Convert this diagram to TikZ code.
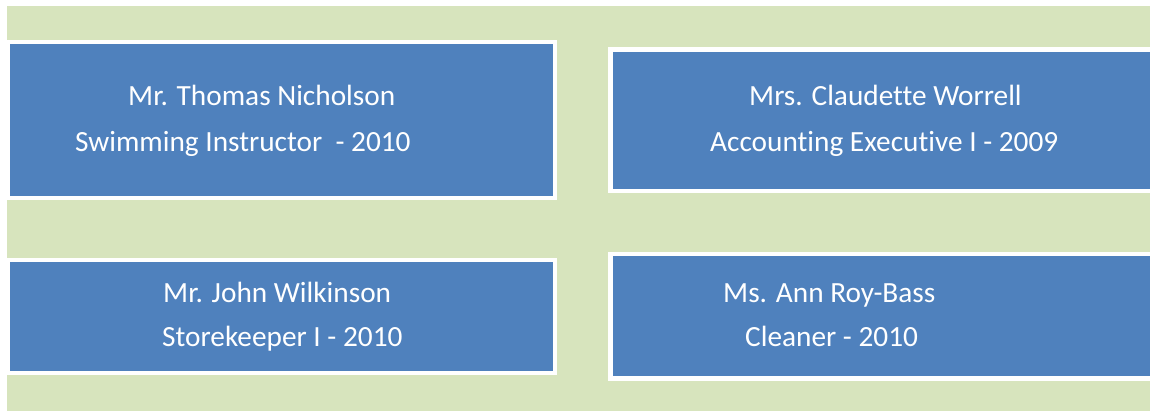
\documentclass[tikz,border=0pt]{standalone}
\usepackage{fontspec}
\setmainfont{Carlito}[Ligatures={NoCommon}]
\definecolor{bgGreen}{HTML}{D7E4BD}
\definecolor{boxBlue}{HTML}{4F81BD}
\begin{document}
\begin{tikzpicture}[x=1pt,y=-1pt,
  panel/.style={rectangle, fill=boxBlue, draw=white, line width=4.5pt, inner sep=0pt},
  label/.style={anchor=base west, inner sep=0pt, text=white, font=\fontsize{29.3}{35}\selectfont}]
\useasboundingbox (0,0) rectangle (1150,411);
\fill[white] (0,0) rectangle (1150,411);
\fill[bgGreen] (7,6) rectangle (1150,411);
% boxes (path at stroke centre)
\node[panel, minimum width=547pt, minimum height=156pt] (b1) at (281.5,120) {};
\node[panel, minimum width=560pt, minimum height=141.5pt] (b2) at (890.5,120.25) {};
\node[panel, minimum width=547pt, minimum height=113pt] (b3) at (281.5,316.5) {};
\node[panel, minimum width=560pt, minimum height=124.5pt] (b4) at (890.5,316.25) {};
% texts
\node[label] (t1a) at (128,106) {Mr. Thomas Nicholson};
\node[label] (t1b) at (75,152) {Swimming Instructor\ \ - 2010};
\node[label] (t2a) at (749,106) {Mrs. Claudette Worrell};
\node[label] (t2b) at (710,152) {Accounting Executive I - 2009};
\node[label] (t3a) at (163,302) {Mr. John Wilkinson};
\node[label] (t3b) at (162,346) {Storekeeper I - 2010};
\node[label] (t4a) at (723,302) {Ms. Ann Roy-Bass};
\node[label] (t4b) at (745,346) {Cleaner - 2010};
\end{tikzpicture}
\end{document}
